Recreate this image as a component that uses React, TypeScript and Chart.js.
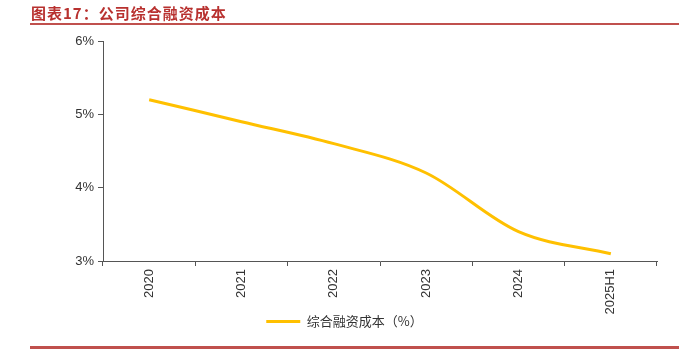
import React, { useEffect, useRef } from "react";
import { Chart, registerables } from "chart.js";

Chart.register(...registerables);

const categories = ["2020", "2021", "2022", "2023", "2024", "2025H1"];
const financingCost = [5.2, 4.9, 4.6, 4.2, 3.4, 3.1];
const seriesLabel = "综合融资成本（%）";
const yTicks = [3, 4, 5, 6];
const titleText = "图表17：公司综合融资成本";

export default function App() {
  const ref = useRef<HTMLCanvasElement | null>(null);

  useEffect(() => {
    if (!ref.current) return;
    const axisColor = "#555555";
    const chart = new Chart(ref.current, {
      type: "line",
      data: {
        labels: categories,
        datasets: [
          {
            label: seriesLabel,
            data: financingCost,
            borderColor: "#FFC000",
            backgroundColor: "#FFC000",
            borderWidth: 3,
            pointRadius: 0,
            pointHoverRadius: 0,
            tension: 0.4,
            cubicInterpolationMode: "monotone",
            fill: false,
            clip: false,
          },
        ],
      },
      options: {
        animation: false,
        responsive: false,
        maintainAspectRatio: false,
        events: [],
        layout: { padding: { left: 32, right: 22, top: 41, bottom: 17 } },
        plugins: {
          title: { display: false },
          tooltip: { enabled: false },
          legend: {
            display: true,
            position: "bottom",
            labels: {
              usePointStyle: true,
              pointStyle: "line",
              pointStyleWidth: 34,
              boxHeight: 13,
              color: "#333333",
              font: { size: 13, family: "'Noto Sans CJK SC', 'Liberation Sans', sans-serif" },
              padding: 0,
            },
          },
        },
        scales: {
          x: {
            type: "category",
            offset: true,
            afterFit: (s: any) => {
              s.height = 54;
            },
            grid: {
              display: true,
              offset: true,
              drawOnChartArea: false,
              drawTicks: true,
              tickLength: 5,
              color: axisColor,
            },
            border: { display: true, color: axisColor, width: 1 },
            ticks: {
              minRotation: 90,
              maxRotation: 90,
              autoSkip: false,
              padding: 3,
              color: "#333333",
              font: { size: 13, family: "'Liberation Sans', Arial, sans-serif" },
            },
          },
          y: {
            type: "linear",
            min: yTicks[0],
            max: yTicks[yTicks.length - 1],
            afterFit: (s: any) => {
              s.width = 71;
            },
            afterBuildTicks: (s: any) => {
              s.ticks = yTicks.map((v) => ({ value: v }));
            },
            grid: {
              display: true,
              drawOnChartArea: false,
              drawTicks: true,
              tickLength: 5,
              color: axisColor,
            },
            border: { display: true, color: axisColor, width: 1 },
            ticks: {
              padding: 4,
              color: "#333333",
              font: { size: 13, family: "'Liberation Sans', Arial, sans-serif" },
              callback: (v: any) => `${v}%`,
            },
          },
        },
      },
    });
    return () => chart.destroy();
  }, []);

  return (
    <div
      style={{
        position: "fixed",
        left: 0,
        top: 0,
        width: 679,
        height: 355,
        background: "#ffffff",
        overflow: "hidden",
      }}
    >
      <canvas
        ref={ref}
        width={679}
        height={355}
        style={{ position: "absolute", left: 0, top: 0, width: 679, height: 355 }}
      />
      <div
        style={{
          position: "absolute",
          left: 31,
          top: 3,
          fontFamily: "'Noto Sans CJK SC', sans-serif",
          fontWeight: 700,
          fontSize: 15,
          letterSpacing: 1,
          lineHeight: "20px",
          color: "#B8312F",
          whiteSpace: "nowrap",
        }}
      >
        {titleText}
      </div>
      <div
        style={{
          position: "absolute",
          left: 30,
          top: 23,
          width: 649,
          height: 2,
          background: "#C0504D",
        }}
      />
      <div
        style={{
          position: "absolute",
          left: 30,
          top: 346,
          width: 649,
          height: 3,
          background: "#C0504D",
        }}
      />
    </div>
  );
}
